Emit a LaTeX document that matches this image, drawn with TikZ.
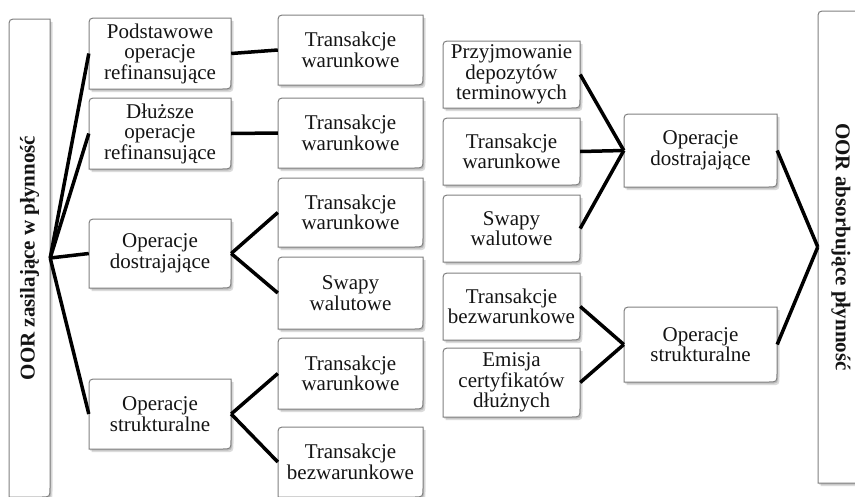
\documentclass[tikz,border=0pt]{standalone}
\usepackage{fontspec}
\usepackage{graphicx}
\setmainfont{Liberation Serif}
\tikzset{
  conn/.style={line width=3.5pt, draw=black, line cap=butt},
  boxtext/.style={inner sep=0pt, align=center, font=\fontsize{21}{20.5}\selectfont, text=black!92},
  boxframe/.style={draw=black!50, line width=1pt, fill=white},
  boxshade/.style={fill=black, opacity=0.14},
}
% #1..#4 = x1,y1,x2,y2 (pixels, y down), #5 = style
\newcommand\frameshape[5]{%
  \path[#5] (#1,#4) -- (#1,#2+9) .. controls (#1,#2) .. (#1+9,#2) -- (#3,#2) -- (#3,#4-9) .. controls (#3,#4) .. (#3-9,#4) -- cycle;}
\newcommand\obox[6]{%
  \frameshape{#2+2.5}{#3+3.2}{#4+2.5}{#5+3.2}{boxshade}
  \frameshape{#2+1.2}{#3+1.6}{#4+1.2}{#5+1.6}{boxshade}
  \frameshape{#2}{#3}{#4}{#5}{boxframe}
  \node[boxtext, minimum width={(#4-#2)*1pt}, minimum height={(#5-#3)*1pt}] (#1) at ({(#2+#4)/2},{(#3+#5)/2}) {#6};}
\begin{document}
\begin{tikzpicture}[x=1pt,y=-1pt]
\clip (0,0) rectangle (855,496);
\fill[white] (0,0) rectangle (855,496);
% tall side boxes
\obox{L}{9}{19}{50}{497}{\rotatebox{90}{\bfseries OOR zasilające w płynność}}
\obox{R}{818}{11}{864}{483}{\rotatebox{-90}{\bfseries OOR absorbujące płynność}}
% column 1
\obox{P}{89}{18}{231}{89}{Podstawowe\\operacje\\refinansujące}
\obox{D}{89}{98}{231}{169}{Dłuższe\\operacje\\refinansujące}
\obox{ODa}{89}{219}{231}{288}{Operacje\\dostrajające}
\obox{OSa}{89}{379}{231}{449}{Operacje\\strukturalne}
% column 2
\obox{TWa}{278}{15}{423}{85}{Transakcje\\warunkowe}
\obox{TWb}{278}{98}{423}{168}{Transakcje\\warunkowe}
\obox{TWc}{278}{178}{423}{247}{Transakcje\\warunkowe}
\obox{SWa}{278}{257}{423}{329}{Swapy\\walutowe}
\obox{TWd}{278}{338}{423}{409}{Transakcje\\warunkowe}
\obox{TBa}{278}{427}{423}{497}{Transakcje\\bezwarunkowe}
% column 3
\obox{PD}{443}{41}{580}{108}{Przyjmowanie\\depozytów\\terminowych}
\obox{TWe}{443}{118}{580}{185}{Transakcje\\warunkowe}
\obox{SWb}{443}{195}{580}{262}{Swapy\\walutowe}
\obox{TBb}{443}{273}{580}{340}{Transakcje\\bezwarunkowe}
\obox{EC}{443}{348}{580}{417}{Emisja\\certyfikatów\\dłużnych}
% column 4
\obox{ODb}{624}{114}{777}{187}{Operacje\\dostrajające}
\obox{OSb}{624}{307}{777}{382}{Operacje\\strukturalne}
% connectors
\draw[conn] (L.east) -- (P.west);
\draw[conn] (L.east) -- (D.west);
\draw[conn] (L.east) -- (ODa.west);
\draw[conn] (L.east) -- (OSa.west);
\draw[conn] (P.east) -- (TWa.west);
\draw[conn] (D.east) -- (TWb.west);
\draw[conn] (ODa.east) -- (TWc.west);
\draw[conn] (ODa.east) -- (SWa.west);
\draw[conn] (OSa.east) -- (TWd.west);
\draw[conn] (OSa.east) -- (TBa.west);
\draw[conn] (PD.east) -- (ODb.west);
\draw[conn] (TWe.east) -- (ODb.west);
\draw[conn] (SWb.east) -- (ODb.west);
\draw[conn] (TBb.east) -- (OSb.west);
\draw[conn] (EC.east) -- (OSb.west);
\draw[conn] (ODb.east) -- (R.west);
\draw[conn] (OSb.east) -- (R.west);
\end{tikzpicture}
\end{document}
